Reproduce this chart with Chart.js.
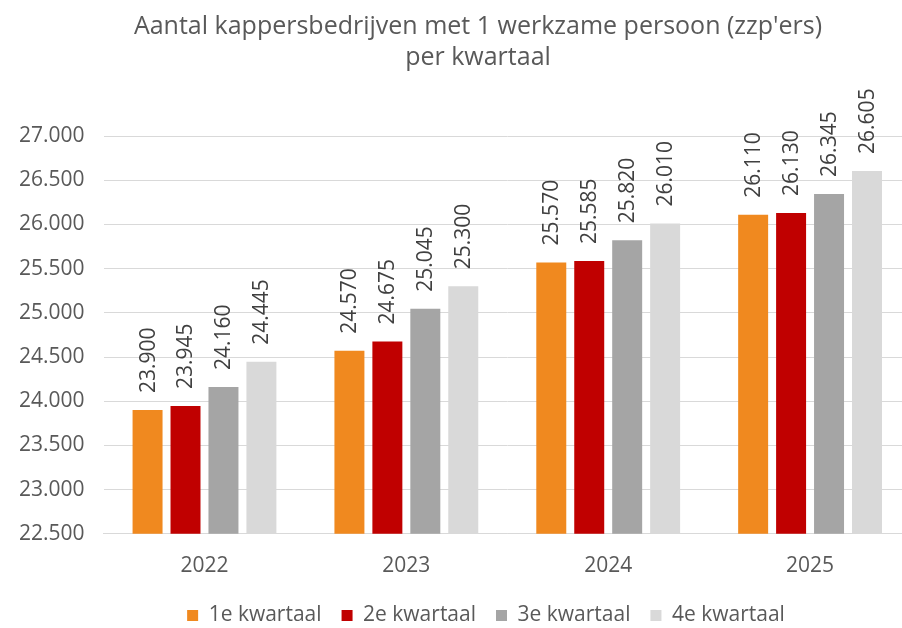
<!DOCTYPE html>
<html>
<head>
<meta charset="utf-8">
<script src="https://cdn.jsdelivr.net/npm/chart.js@4.4.1/dist/chart.umd.min.js"></script>
<style>
html,body{margin:0;padding:0;background:#fff;overflow:hidden;}
#wrap{position:absolute;left:0;top:0;width:930px;height:628px;}
</style>
</head>
<body>
<div id="wrap"><canvas id="c" width="930" height="628"></canvas></div>
<script>
const years = ['2022', '2023', '2024', '2025'];
const seriesNames = ['1e kwartaal', '2e kwartaal', '3e kwartaal', '4e kwartaal'];
const q1 = [23900, 24570, 25570, 26110];
const q2 = [23945, 24675, 25585, 26130];
const q3 = [24160, 25045, 25820, 26345];
const q4 = [24445, 25300, 26010, 26605];
const titleLines = ["Aantal kappersbedrijven met 1 werkzame persoon (zzp'ers)", "per kwartaal"];
const colors = ['#F0891F', '#C00000', '#A5A5A5', '#D9D9D9'];

const FONT = 'Open Sans';
function fmt(v){ return String(v).replace(/\B(?=(\d{3})+(?!\d))/g, '.'); }

const labelPlugin = {
  id: 'valueLabels',
  afterDatasetsDraw(chart){
    const ctx = chart.ctx;
    ctx.save();
    ctx.font = '21px "' + FONT + '"';
    ctx.fillStyle = '#404040';
    ctx.textAlign = 'left';
    ctx.textBaseline = 'middle';
    chart.data.datasets.forEach((ds, di) => {
      const meta = chart.getDatasetMeta(di);
      meta.data.forEach((el, i) => {
        ctx.save();
        ctx.translate(el.x + 1, el.y - 17);
        ctx.rotate(-Math.PI / 2);
        ctx.fillText(fmt(ds.data[i]), 0, 0);
        ctx.restore();
      });
    });
    ctx.restore();
  }
};

const shiftPlugin = {
  id: 'shiftBlocks',
  afterLayout(chart){
    const move = (box, cx, dy) => {
      if (!box) return;
      const d = cx - (box.left + box.right) / 2;
      box.left += d; box.right += d;
      box.top += dy; box.bottom += dy;
    };
    move(chart.titleBlock, 478, 0);
    move(chart.legend, 486, -14);
  }
};

new Chart(document.getElementById('c'), {
  type: 'bar',
  data: {
    labels: years,
    datasets: [q1, q2, q3, q4].map((d, i) => ({
      label: seriesNames[i],
      data: d,
      backgroundColor: colors[i],
      borderWidth: 0,
      categoryPercentage: 0.752,
      barPercentage: 0.79
    }))
  },
  options: {
    responsive: false,
    animation: false,
    devicePixelRatio: 1,
    layout: { padding: { left: 0, right: 19, top: 0, bottom: -22 } },
    plugins: {
      title: {
        display: true,
        text: titleLines,
        color: '#595959',
        font: { family: FONT, size: 25, weight: 'normal', lineHeight: 1.24 },
        padding: { top: 11.5, bottom: 62.5 }
      },
      legend: {
        position: 'bottom',
        labels: {
          color: '#595959',
          font: { family: FONT, size: 21 },
          boxWidth: 11,
          boxHeight: 11,
          padding: 20
        }
      },
      tooltip: { enabled: false }
    },
    scales: {
      x: {
        grid: { display: false, drawTicks: false },
        border: { display: true, color: '#D9D9D9', width: 1 },
        ticks: { color: '#595959', font: { family: FONT, size: 21 }, padding: 20 }
      },
      y: {
        min: 22500,
        max: 27000,
        grid: { color: '#D9D9D9', lineWidth: 1, drawTicks: false },
        border: { display: false },
        ticks: {
          stepSize: 500,
          color: '#595959',
          font: { family: FONT, size: 21 },
          padding: 19,
          callback: v => fmt(v)
        }
      }
    }
  },
  plugins: [labelPlugin, shiftPlugin]
});
</script>
</body>
</html>
